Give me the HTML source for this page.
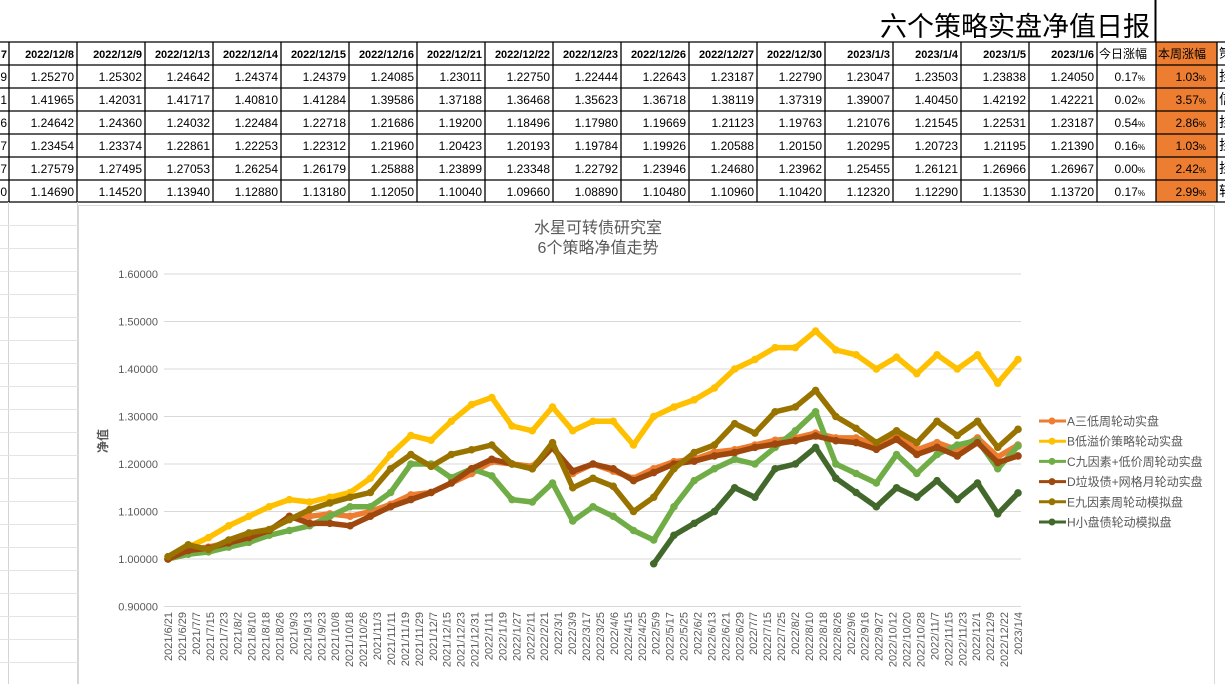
<!DOCTYPE html>
<html><head><meta charset="utf-8">
<style>
html,body{margin:0;padding:0;background:#fff;width:1225px;height:684px;overflow:hidden;}
svg{display:block;font-family:"Liberation Sans","Noto Sans CJK SC",sans-serif;}
</style></head>
<body>
<svg id="root" width="1225" height="684" viewBox="0 0 1225 684" xmlns="http://www.w3.org/2000/svg">
  <text x="1150" y="36" font-size="27" text-anchor="end" fill="#000" font-family="'Liberation Sans','Noto Sans CJK SC',sans-serif">六个策略实盘净值日报</text>
  <line x1="1155.5" y1="0" x2="1155.5" y2="42" stroke="#000" stroke-width="2"/>
  <g id="table"></g>
  <g id="chart"></g>
</svg>
<script>
const NS='http://www.w3.org/2000/svg';
// ---------- table data ----------
const tableDates=['2022/12/8','2022/12/9','2022/12/13','2022/12/14','2022/12/15','2022/12/16','2022/12/21','2022/12/22','2022/12/23','2022/12/26','2022/12/27','2022/12/30','2023/1/3','2023/1/4','2023/1/5','2023/1/6'];
const leftStub=['9','1','6','7','7','0'];
const rowA=['1.25270','1.25302','1.24642','1.24374','1.24379','1.24085','1.23011','1.22750','1.22444','1.22643','1.23187','1.22790','1.23047','1.23503','1.23838','1.24050'];
const rowB=['1.41965','1.42031','1.41717','1.40810','1.41284','1.39586','1.37188','1.36468','1.35623','1.36718','1.38119','1.37319','1.39007','1.40450','1.42192','1.42221'];
const rowC=['1.24642','1.24360','1.24032','1.22484','1.22718','1.21686','1.19200','1.18496','1.17980','1.19669','1.21123','1.19763','1.21076','1.21545','1.22531','1.23187'];
const rowD=['1.23454','1.23374','1.22861','1.22253','1.22312','1.21960','1.20423','1.20193','1.19784','1.19926','1.20588','1.20150','1.20295','1.20723','1.21195','1.21390'];
const rowE=['1.27579','1.27495','1.27053','1.26254','1.26179','1.25888','1.23899','1.23348','1.22792','1.23946','1.24680','1.23962','1.25455','1.26121','1.26966','1.26967'];
const rowH=['1.14690','1.14520','1.13940','1.12880','1.13180','1.12050','1.10040','1.09660','1.08890','1.10480','1.10960','1.10420','1.12320','1.12290','1.13530','1.13720'];
const dayChange=['0.17','0.02','0.54','0.16','0.00','0.17'];
const weekChange=['1.03','3.57','2.86','1.03','2.42','2.99'];
const lastCol=['挂','信','挂','挂','挂','转'];

// ---------- chart data ----------
const xLabels=['2021/6/21','2021/6/29','2021/7/7','2021/7/15','2021/7/23','2021/8/2','2021/8/10','2021/8/18','2021/8/26','2021/9/3','2021/9/13','2021/9/23','2021/10/8','2021/10/18','2021/10/26','2021/11/3','2021/11/11','2021/11/19','2021/11/29','2021/12/7','2021/12/15','2021/12/23','2021/12/31','2022/1/11','2022/1/19','2022/1/27','2022/2/11','2022/2/21','2022/3/1','2022/3/9','2022/3/17','2022/3/25','2022/4/6','2022/4/15','2022/4/25','2022/5/9','2022/5/17','2022/5/25','2022/6/2','2022/6/13','2022/6/21','2022/6/29','2022/7/7','2022/7/15','2022/7/25','2022/8/2','2022/8/10','2022/8/18','2022/8/26','2022/9/6','2022/9/16','2022/9/27','2022/10/12','2022/10/20','2022/10/28','2022/11/7','2022/11/15','2022/11/23','2022/12/1','2022/12/9','2022/12/22','2023/1/4'];
const yTicks=[0.9,1.0,1.1,1.2,1.3,1.4,1.5,1.6];
const seriesNames=['A三低周轮动实盘','B低溢价策略轮动实盘','C九因素+低价周轮动实盘','D垃圾债+网格月轮动实盘','E九因素周轮动模拟盘','H小盘债轮动模拟盘'];
const seriesA=[1.00,1.02,1.025,1.035,1.045,1.06,1.085,1.09,1.095,1.09,1.10,1.115,1.135,1.14,1.16,1.18,1.205,1.20,1.195,1.235,1.18,1.20,1.185,1.17,1.19,1.205,1.21,1.225,1.23,1.24,1.25,1.255,1.265,1.255,1.255,1.24,1.26,1.23,1.245,1.23,1.255,1.215,1.24];
const seriesB=[1.00,1.025,1.045,1.07,1.09,1.11,1.125,1.12,1.13,1.14,1.17,1.22,1.26,1.25,1.29,1.325,1.34,1.28,1.27,1.32,1.27,1.29,1.29,1.24,1.30,1.32,1.335,1.36,1.40,1.42,1.445,1.445,1.48,1.44,1.43,1.40,1.425,1.39,1.43,1.40,1.43,1.37,1.42];
const seriesC=[1.00,1.01,1.015,1.025,1.035,1.05,1.06,1.07,1.09,1.11,1.11,1.14,1.20,1.20,1.171,1.19,1.175,1.125,1.12,1.16,1.08,1.11,1.09,1.06,1.04,1.11,1.165,1.19,1.21,1.20,1.235,1.27,1.31,1.20,1.18,1.16,1.22,1.18,1.22,1.24,1.25,1.19,1.238];
const seriesD=[1.00,1.018,1.023,1.034,1.045,1.06,1.09,1.075,1.075,1.07,1.09,1.11,1.125,1.14,1.16,1.19,1.21,1.20,1.19,1.235,1.185,1.20,1.19,1.165,1.182,1.20,1.206,1.217,1.224,1.235,1.242,1.249,1.259,1.249,1.245,1.231,1.252,1.22,1.235,1.217,1.245,1.203,1.217];
const seriesE=[1.005,1.03,1.02,1.04,1.055,1.062,1.083,1.104,1.118,1.13,1.14,1.19,1.22,1.195,1.22,1.23,1.24,1.20,1.19,1.245,1.15,1.17,1.153,1.10,1.13,1.19,1.224,1.24,1.285,1.265,1.31,1.32,1.355,1.30,1.275,1.245,1.27,1.245,1.29,1.26,1.29,1.235,1.273];
const seriesH=[null,null,null,null,null,null,null,null,null,null,null,null,null,null,null,null,null,null,null,null,null,null,null,null,0.99,1.05,1.075,1.10,1.15,1.13,1.19,1.20,1.235,1.17,1.14,1.11,1.15,1.13,1.165,1.125,1.16,1.095,1.139];
const seriesColors=['#ED7D31','#FFC000','#70AD47','#9E480E','#997300','#43682B'];

function el(tag,attrs,parent,text){const e=document.createElementNS(NS,tag);for(const k in attrs)e.setAttribute(k,attrs[k]);if(text!==undefined)e.textContent=text;parent.appendChild(e);return e;}

// ---------- table ----------
const tg=document.getElementById('table');
const colX=[9,77,145,213,281,349,417,485,553,621,689,757,825,893,961,1029,1097,1156,1217];
const rowY=[42,65,88,111,134,157,180,202];
const wk=el('rect',{x:1156,y:42,width:61,height:160,fill:'#ED7D31'},tg);


const rows=[rowA,rowB,rowC,rowD,rowE,rowH];
const h0=el('text',{x:7,y:58,'font-size':11,'font-weight':'bold','text-anchor':'end',fill:'#000'},tg,'7');


tableDates.forEach((d,i)=>{
  const t=el('text',{x:colX[i+1]-3,y:58,'font-size':11,'font-weight':'bold','text-anchor':'end',fill:'#000'},tg,d);
  
  
});
const hd=el('text',{x:1099,y:58,'font-size':12,fill:'#000'},tg,'今日涨幅');


const hw=el('text',{x:1158,y:58,'font-size':12,fill:'#000'},tg,'本周涨幅');


const hs=el('text',{x:1219,y:58,'font-size':13,fill:'#000'},tg,'策');


rows.forEach((r,ri)=>{
  const y=rowY[ri+1]+16;
  const s=el('text',{x:7,y:y,'font-size':12,'text-anchor':'end',fill:'#000'},tg,leftStub[ri]);
  
  
  r.forEach((v,ci)=>{
    const t=el('text',{x:colX[ci+1]-3,y:y,'font-size':12,'text-anchor':'end',fill:'#000'},tg,v);
    
    
  });
  const dc=el('text',{x:1145,y:y,'font-size':12,'text-anchor':'end',fill:'#000'},tg,dayChange[ri]);
  
  
  el('tspan',{'font-size':8},dc,'%');
  const wc=el('text',{x:1206,y:y,'font-size':12,'text-anchor':'end',fill:'#000'},tg,weekChange[ri]);
  
  
  el('tspan',{'font-size':8},wc,'%');
  const lc=el('text',{x:1219,y:y,'font-size':14,fill:'#000'},tg,lastCol[ri]);
  
  
});
rowY.forEach(y=>{el('line',{x1:0,y1:y,x2:1225,y2:y,stroke:'#000','stroke-width':1.3},tg);});
colX.forEach(x=>{el('line',{x1:x,y1:42,x2:x,y2:202,stroke:'#000','stroke-width':1.3},tg);});
[8,77].forEach(x=>el('line',{x1:x+.5,y1:202,x2:x+.5,y2:684,stroke:'#d4d4d4'},tg));
for(let y=225;y<684;y+=23)el('line',{x1:0,y1:y+.5,x2:78,y2:y+.5,stroke:'#e4e4e4'},tg);

// ---------- chart ----------
const cg=document.getElementById('chart');
const box=el('rect',{x:78.5,y:205.5,width:1136,height:480,fill:'#fff',stroke:'#d9d9d9'},cg);


const t1=el('text',{x:598,y:233,'font-size':16,'text-anchor':'middle',fill:'#595959'},cg,'水星可转债研究室');


const t2=el('text',{x:598,y:253,'font-size':16,'text-anchor':'middle',fill:'#595959'},cg,'6个策略净值走势');


const X0=168,X1=1018,PL=164,PR=1021;
const yScale=v=>559-(v-1.0)*475;
const xFrac=f=>X0+(X1-X0)*f;
yTicks.forEach(v=>{
  const y=yScale(v);
  const g=el('line',{x1:PL,y1:y,x2:PR,y2:y,stroke:'#d9d9d9'},cg);
  
  
  const t=el('text',{x:158,y:y+4,'font-size':11,'text-anchor':'end',fill:'#595959'},cg,v.toFixed(5));
  
  
});
const yt=el('text',{x:0,y:0,'font-size':12,'font-weight':'bold','text-anchor':'middle',fill:'#595959',transform:'translate(107,441) rotate(-90)'},cg,'净值');


xLabels.forEach((d,i)=>{
  const x=xFrac(i/(xLabels.length-1));
  const t=el('text',{x:0,y:0,'font-size':11,'text-anchor':'end',fill:'#595959',transform:`translate(${x+4},612) rotate(-90)`},cg,d);
  
  
});
const allSeries=[seriesA,seriesB,seriesC,seriesD,seriesE,seriesH];
allSeries.forEach((s,si)=>{
  const g=el('g',{},cg);
  
  
  let d='';let pen=false;
  s.forEach((v,i)=>{
    if(v===null){pen=false;return;}
    const x=xFrac(i/(s.length-1)),y=yScale(v);
    d+=(pen?'L':'M')+x.toFixed(1)+' '+y.toFixed(1)+' ';pen=true;
  });
  const p=el('path',{d:d,fill:'none',stroke:seriesColors[si],'stroke-width':5.5,'stroke-linejoin':'round','stroke-linecap':'round'},g);
  
  
  s.forEach((v,i)=>{
    if(v===null)return;
    const c=el('circle',{cx:xFrac(i/(s.length-1)),cy:yScale(v),r:3.8,fill:seriesColors[si]},g);
    
    
  });
});
seriesNames.forEach((n,i)=>{
  const y=421+i*20.2;
  const g=el('g',{},cg);
  
  
  el('line',{x1:1039,y1:y,x2:1066,y2:y,stroke:seriesColors[i],'stroke-width':3},g);
  el('circle',{cx:1052,cy:y,r:3.5,fill:seriesColors[i]},g);
  el('text',{x:1067,y:y+4.5,'font-size':12,fill:'#595959'},g,n);
});
</script>
</body></html>
